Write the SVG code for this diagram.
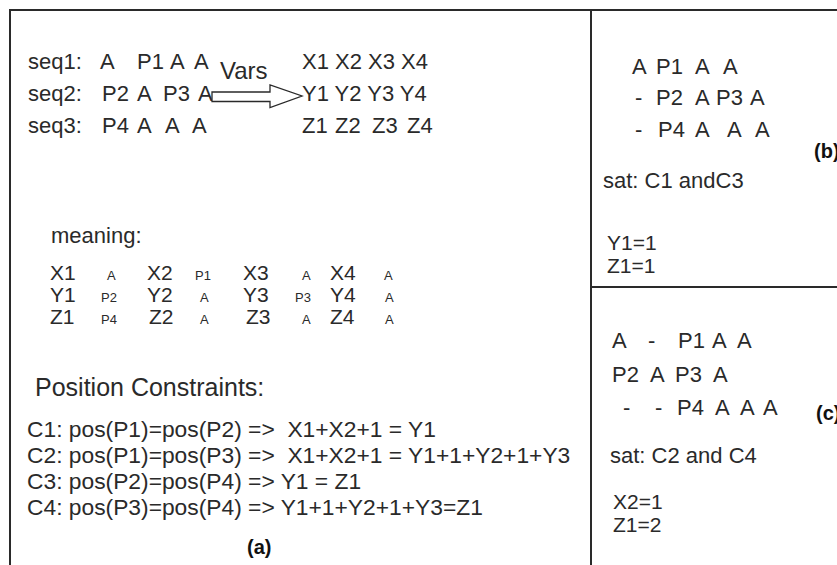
<svg xmlns="http://www.w3.org/2000/svg" width="837" height="565" viewBox="0 0 837 565">
<style>
text{font-family:"Liberation Sans",Arial,sans-serif;fill:#2a2a2a;font-size:22px;white-space:pre;}
.mb{font-size:21px;}
.sm{font-size:13px;}
.vars{font-size:24px;}
.pc{font-size:25px;}
.c{font-size:22.8px;}
.v{font-size:21px;}
.lbl{font-size:20px;font-weight:bold;fill:#111;}
.frame{stroke:#2a2a2a;stroke-width:2;fill:none;}
.arrow{fill:#fff;stroke:#2a2a2a;stroke-width:1.3;}
</style>
<rect width="837" height="565" fill="#fff"/>
<g id="frame">
<path class="frame" d="M10,565 V10 H837 M591,10 V565 M591,287 H837"/>
</g>
<g id="panel-a">
<g id="seqs">
<text x="28" y="69">seq1:</text><text x="100" y="69">A</text><text x="137" y="69">P1</text><text x="170" y="69">A</text><text x="194" y="69">A</text>
<text x="28" y="101">seq2:</text><text x="102" y="101">P2</text><text x="137" y="101">A</text><text x="163" y="101">P3</text><text x="198" y="101">A</text>
<text x="28" y="133">seq3:</text><text x="102" y="133">P4</text><text x="137" y="133">A</text><text x="165" y="133">A</text><text x="192" y="133">A</text>
</g>
<g id="vars">
<text class="vars" x="220" y="79">Vars</text>
<path class="arrow" d="M212,92 H270 V85 L302,96 L270,107.5 V101.5 H212 Z"/>
<text x="302" y="69">X1 X2 X3 X4</text>
<text x="302" y="101">Y1 Y2 Y3 Y4</text>
<text x="302" y="133">Z1</text><text x="335" y="133">Z2</text><text x="372" y="133">Z3</text><text x="407" y="133">Z4</text>
</g>
<g id="meaning">
<text x="51" y="243">meaning:</text>
<text class="mb" x="50" y="280">X1</text><text class="sm" x="107" y="280">A</text><text class="mb" x="147" y="280">X2</text><text class="sm" x="195" y="280">P1</text><text class="mb" x="243" y="280">X3</text><text class="sm" x="302" y="280">A</text><text class="mb" x="330" y="280">X4</text><text class="sm" x="384" y="280">A</text>
<text class="mb" x="50" y="302">Y1</text><text class="sm" x="101" y="302">P2</text><text class="mb" x="147" y="302">Y2</text><text class="sm" x="200" y="302">A</text><text class="mb" x="243" y="302">Y3</text><text class="sm" x="295" y="302">P3</text><text class="mb" x="330" y="302">Y4</text><text class="sm" x="385" y="302">A</text>
<text class="mb" x="50" y="324">Z1</text><text class="sm" x="101" y="324">P4</text><text class="mb" x="149" y="324">Z2</text><text class="sm" x="200" y="324">A</text><text class="mb" x="246" y="324">Z3</text><text class="sm" x="302" y="324">A</text><text class="mb" x="330" y="324">Z4</text><text class="sm" x="385" y="324">A</text>
</g>
<g id="constraints">
<text class="pc" x="35" y="396">Position Constraints:</text>
<text class="c" x="27" y="437">C1: pos(P1)=pos(P2) =&gt;  X1+X2+1 = Y1</text>
<text class="c" x="27" y="463">C2: pos(P1)=pos(P3) =&gt;  X1+X2+1 = Y1+1+Y2+1+Y3</text>
<text class="c" x="27" y="489">C3: pos(P2)=pos(P4) =&gt; Y1 = Z1</text>
<text class="c" x="27" y="515">C4: pos(P3)=pos(P4) =&gt; Y1+1+Y2+1+Y3=Z1</text>
<text class="lbl" x="247" y="554">(a)</text>
</g>
</g>
<g id="panel-b">
<text x="632" y="74">A</text><text x="656" y="74">P1</text><text x="695" y="74">A</text><text x="723" y="74">A</text>
<text x="635" y="105">-</text><text x="656" y="105">P2</text><text x="695" y="105">A</text><text x="716" y="105">P3</text><text x="750" y="105">A</text>
<text x="635" y="137">-</text><text x="658" y="137">P4</text><text x="695" y="137">A</text><text x="727" y="137">A</text><text x="755" y="137">A</text>
<text class="lbl" x="814" y="158">(b)</text>
<text x="603" y="188">sat: C1 andC3</text>
<text class="v" x="607" y="250">Y1=1</text>
<text class="v" x="607" y="273">Z1=1</text>
</g>
<g id="panel-c">
<text x="612" y="348">A</text><text x="648" y="348">-</text><text x="678" y="348">P1</text><text x="712" y="348">A</text><text x="737" y="348">A</text>
<text x="612" y="382">P2</text><text x="650" y="382">A</text><text x="675" y="382">P3</text><text x="713" y="382">A</text>
<text x="623" y="415">-</text><text x="655" y="415">-</text><text x="677" y="415">P4</text><text x="715" y="415">A</text><text x="740" y="415">A</text><text x="763" y="415">A</text>
<text class="lbl" x="816" y="420">(c)</text>
<text x="610" y="463">sat: C2 and C4</text>
<text class="v" x="613" y="509">X2=1</text>
<text class="v" x="613" y="532">Z1=2</text>
</g>
</svg>
